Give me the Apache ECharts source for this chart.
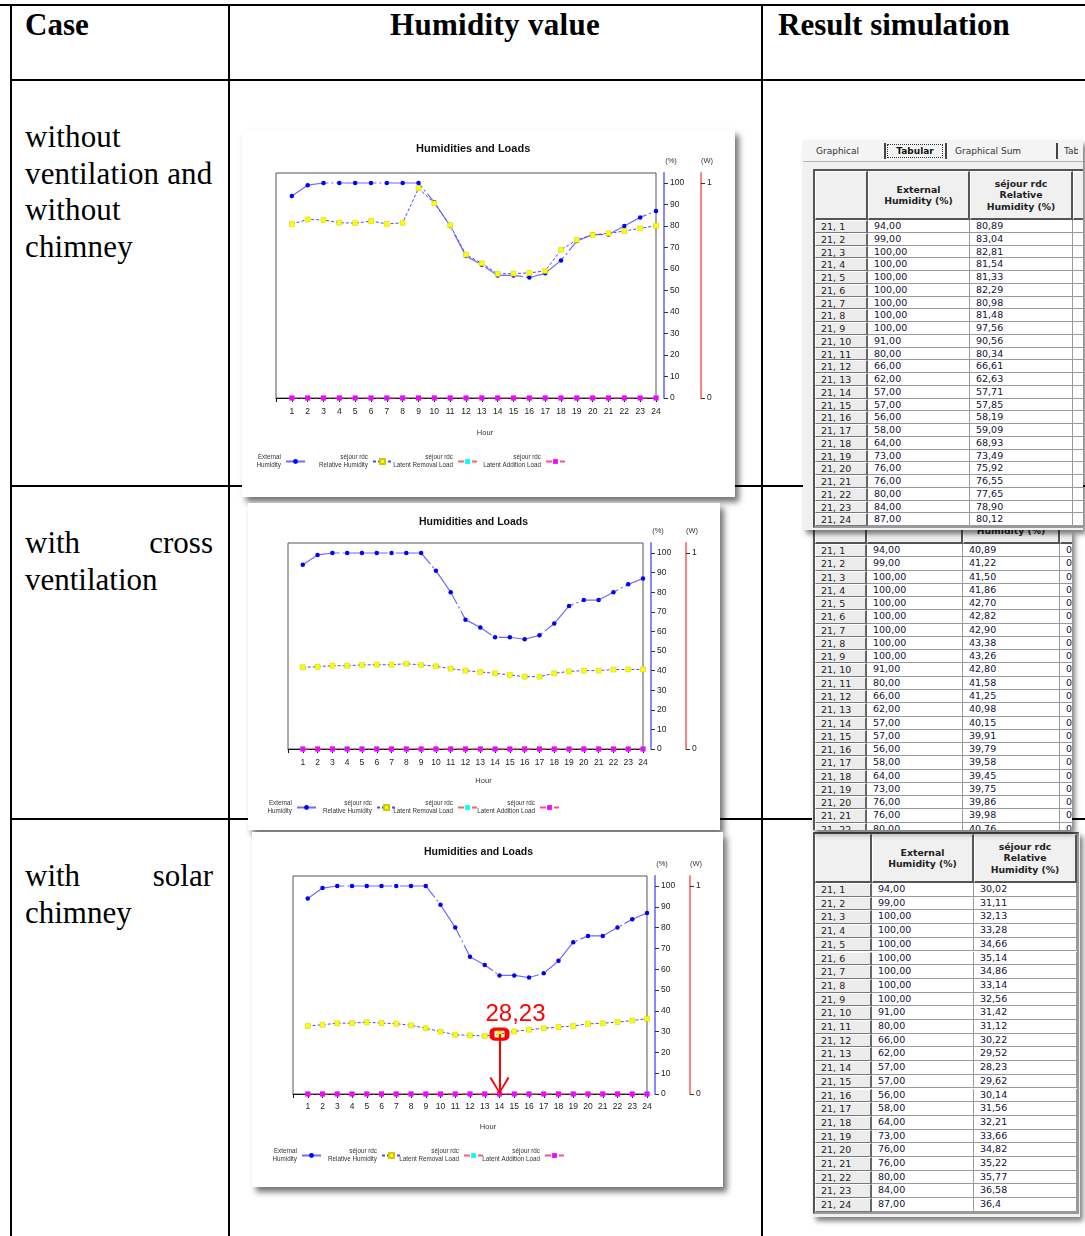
<!DOCTYPE html>
<html><head><meta charset="utf-8">
<script src="https://cdn.jsdelivr.net/npm/echarts@6/dist/echarts.min.js"></script>
<style>
body{margin:0;width:1085px;height:1236px;position:relative;background:#fff;overflow:hidden;font-family:'Liberation Serif','Times New Roman',serif;}
.ln{position:absolute;background:#000;}
.txt{position:absolute;font-size:31px;line-height:36.7px;color:#000;white-space:nowrap;}
.hd{font-weight:bold;}
.chart{position:absolute;background:#fff;box-shadow:4px 5px 6px rgba(0,0,0,0.55);z-index:2;}
.panel{position:absolute;background:#f0f0f0;box-shadow:3px 4px 5px rgba(0,0,0,0.5);overflow:hidden;font-family:'DejaVu Sans',sans-serif;z-index:3;}
.cell{position:absolute;box-sizing:border-box;font-size:9.5px;white-space:nowrap;overflow:hidden;color:#10103a;}
</style></head><body>
<div class="ln" style="left:0;top:4px;width:1085px;height:2px"></div>
<div class="ln" style="left:10px;top:79px;width:1075px;height:2px"></div>
<div class="ln" style="left:10px;top:485px;width:1075px;height:2px"></div>
<div class="ln" style="left:10px;top:818px;width:1075px;height:2px"></div>
<div class="ln" style="left:10px;top:4px;width:2px;height:1232px"></div>
<div class="ln" style="left:228px;top:4px;width:2px;height:1232px"></div>
<div class="ln" style="left:761px;top:4px;width:2px;height:1232px"></div>

<div class="txt hd" style="left:25px;top:7px">Case</div>
<div class="txt hd" style="left:390px;top:7px;letter-spacing:0.3px">Humidity value</div>
<div class="txt hd" style="left:778px;top:7px">Result simulation</div>

<div class="txt" style="left:25px;top:119px;letter-spacing:0.15px">without<br>ventilation and<br>without<br>chimney</div>
<div class="txt" style="left:25px;top:525px;width:188px"><div style="display:flex;justify-content:space-between"><span>with</span><span>cross</span></div>ventilation</div>
<div class="txt" style="left:25px;top:858px;width:188px"><div style="display:flex;justify-content:space-between"><span>with</span><span>solar</span></div>chimney</div>

<div id="c1" class="chart" style="left:242px;top:130px;width:493px;height:367px"></div>
<div id="c2" class="chart" style="left:248px;top:503px;width:472px;height:327px"></div>
<div id="c3" class="chart" style="left:252px;top:832px;width:471px;height:355px"></div>

<script>
// ---------- data ----------
const hours = [1,2,3,4,5,6,7,8,9,10,11,12,13,14,15,16,17,18,19,20,21,22,23,24];
const extHumidity = [94,99,100,100,100,100,100,100,100,91,80,66,62,57,57,56,58,64,73,76,76,80,84,87];
const rhNoVentChart = [80.89,83.04,82.81,81.54,81.33,82.29,80.98,81.48,97.56,90.56,80.34,66.61,62.63,57.71,57.85,58.19,59.09,68.93,73.49,75.92,76.55,77.65,78.90,80.12];
const rhCrossChart = [41.7,42.0,42.5,42.5,42.9,43.0,43.0,43.5,42.9,42.2,41.0,40.0,39.3,38.6,37.8,36.9,36.9,38.6,39.6,40.0,40.0,40.5,40.6,40.6];
const rhChimneyChart = [32.7,33.3,34.0,34.1,34.5,34.1,33.8,33.0,31.6,30.0,28.5,28.2,27.9,28.8,30.1,30.9,31.6,32.2,32.7,33.7,34.0,34.6,35.3,36.2];
const latentRemoval = [0,0,0,0,0,0,0,0,0,0,0,0,0,0,0,0,0,0,0,0,0,0,0,0];
const latentAddition = [0,0,0,0,0,0,0,0,0,0,0,0,0,0,0,0,0,0,0,0,0,0,0,0];
const pctTicks = [0,10,20,30,40,50,60,70,80,90,100];
const wTicks = [0,1];
const annotHour = 14;
const annotText = '28,23';

const tblRowLabels = hours.map(h => '21, ' + h);
const tblExt = ['94,00','99,00','100,00','100,00','100,00','100,00','100,00','100,00','100,00','91,00','80,00','66,00','62,00','57,00','57,00','56,00','58,00','64,00','73,00','76,00','76,00','80,00','84,00','87,00'];
const tblRhNoVent = ['80,89','83,04','82,81','81,54','81,33','82,29','80,98','81,48','97,56','90,56','80,34','66,61','62,63','57,71','57,85','58,19','59,09','68,93','73,49','75,92','76,55','77,65','78,90','80,12'];
const tblRhCross = ['40,89','41,22','41,50','41,86','42,70','42,82','42,90','43,38','43,26','42,80','41,58','41,25','40,98','40,15','39,91','39,79','39,58','39,45','39,75','39,86','39,98','40,76'];
const tblRhChimney = ['30,02','31,11','32,13','33,28','34,66','35,14','34,86','33,14','32,56','31,42','31,12','30,22','29,52','28,23','29,62','30,14','31,56','32,21','33,66','34,82','35,22','35,77','36,58','36,4'];
const seriesNames = ['External\nHumidity','séjour rdc\nRelative Humidity','séjour rdc\nLatent Removal Load','séjour rdc\nLatent Addition Load'];

// ---------- charts ----------
const FONT = 'Liberation Sans, Arial, sans-serif';
const CHEVRON = 'path://M0,0 L1.8,-1 L10,14.6 L18.2,-1 L20,0 L10,18 Z';
function pts(arr){ return hours.map((h,i)=>[h, arr[i]]); }
function makeOption(c){
  const axisName = (pad) => ({fontSize:7.5, color:'#333', fontFamily:FONT, padding:[0,0,0,pad]});
  const legends = seriesNames.map((n,i)=>({
    data:[n], right:c.legRight[i], top:c.legTop, align:'right', padding:0,
    itemWidth:19, itemHeight:6, selectedMode:false,
    textStyle:{fontSize:6.3, color:'#333', lineHeight:8.5, fontFamily:FONT}
  }));
  const rhSeries = {
    name:seriesNames[1], type:'line', data:pts(c.rh), symbol:'rect', symbolSize:5, z:4,
    itemStyle:{color:'#ffff00', borderColor:'#cccc00', borderWidth:0.5},
    lineStyle:{color:'#4a4aff', width:1, type:[3,2]}
  };
  if (c.annot) {
    const v = c.rh[annotHour-1];
    rhSeries.markPoint = {
      silent:true,
      data:[
        {coord:[annotHour, v], symbol:'roundRect', symbolSize:[15,10],
         itemStyle:{color:'rgba(255,255,255,0)', borderColor:'#ff0000', borderWidth:4},
         label:{show:true, formatter:annotText, position:'top', distance:1, offset:[16,0], color:'#ff0000', fontSize:24, fontFamily:FONT}},
        {coord:[annotHour, 0], symbol:CHEVRON, symbolSize:[20,17], symbolOffset:[0,'-50%'],
         itemStyle:{color:'#ff0000'}, label:{show:false}}
      ]
    };
    rhSeries.markLine = {
      silent:true, symbol:['none','none'],
      data:[[{coord:[annotHour, v]},{coord:[annotHour, 0]}]],
      lineStyle:{color:'#ff0000', width:2, type:'solid'}, label:{show:false}
    };
  }
  return {
    animation:false,
    title:{text:'Humidities and Loads', left:c.titleLeft, top:c.titleTop, padding:0,
      textStyle:{fontSize:c.titleSize, fontWeight:'bold', color:'#111', fontFamily:FONT}},
    grid:{left:c.grid[0], right:c.grid[1], top:c.grid[2], bottom:c.grid[3], show:true, borderColor:'#555', borderWidth:1, containLabel:false, outerBoundsMode:'none'},
    xAxis:{type:'value', min:0, max:24, interval:1,
      axisLine:{onZero:false, lineStyle:{color:'#111', width:1}},
      axisTick:{length:4, lineStyle:{color:'#111'}},
      axisLabel:{fontSize:8.5, color:'#222', margin:c.xMargin, fontFamily:FONT, formatter:v=> v===0 ? '' : String(v)},
      splitLine:{show:false},
      name:'Hour', nameLocation:'middle', nameGap:c.hourGap,
      nameTextStyle:{fontSize:7.5, color:'#333', fontFamily:FONT, padding:[0,0,0,c.hourShift*2]}},
    yAxis:[
      {type:'value', position:'right', offset:c.offB, min:0, max:c.yMax,
       axisLine:{show:true, onZero:false, lineStyle:{color:'#8888ff', width:2}},
       axisTick:{show:true, customValues:pctTicks, length:4, lineStyle:{color:'#333'}},
       axisLabel:{customValues:pctTicks, fontSize:8.5, color:'#222', margin:6, fontFamily:FONT},
       splitLine:{show:false}, name:'(%)', nameLocation:'end', nameGap:8, nameTextStyle:axisName(14)},
      {type:'value', position:'right', offset:c.offR, min:0, max:c.yMax/100,
       axisLine:{show:true, onZero:false, lineStyle:{color:'#ff8080', width:2}},
       axisTick:{show:true, customValues:wTicks, length:4, lineStyle:{color:'#333'}},
       axisLabel:{customValues:wTicks, fontSize:8.5, color:'#222', margin:6, fontFamily:FONT},
       splitLine:{show:false}, name:'(W)', nameLocation:'end', nameGap:8, nameTextStyle:axisName(12)}
    ],
    legend:legends,
    series:[
      {name:seriesNames[0], type:'line', data:pts(extHumidity), symbol:'circle', symbolSize:4.5, z:3,
       itemStyle:{color:'#0000ff'}, lineStyle:{color:'#6c6cff', width:1.2, type:[40,3,2,3]}},
      rhSeries,
      {name:seriesNames[2], type:'line', yAxisIndex:1, data:pts(latentRemoval), symbol:'rect', symbolSize:5, z:2,
       itemStyle:{color:'#00ffff'}, lineStyle:{color:'#ff6060', width:1.2, type:[6,3,2,3]}},
      {name:seriesNames[3], type:'line', yAxisIndex:1, data:pts(latentAddition), symbol:'rect', symbolSize:5, z:2,
       itemStyle:{color:'#ff00ff'}, lineStyle:{color:'#ff5080', width:1.2, type:[6,3,2,3]}}
    ]
  };
}
const cfgs = [
  {id:'c1', rh:rhNoVentChart, grid:[34,79,43,99], yMax:104.65, offB:8, offR:45, titleLeft:174, titleTop:13, titleSize:11,
   xMargin:9, hourGap:31, hourShift:19, legRight:[429,342,257,169], legTop:323},
  {id:'c2', rh:rhCrossChart, grid:[40,77,40,81], yMax:105.1, offB:8, offR:43, titleLeft:171, titleTop:14, titleSize:10.5,
   xMargin:9, hourGap:28, hourShift:18, legRight:[403,323,242,160], legTop:296},
  {id:'c3', rh:rhChimneyChart, grid:[41,76,44,93], yMax:104.8, offB:8, offR:43, titleLeft:172, titleTop:15, titleSize:10.5,
   xMargin:8, hourGap:29, hourShift:18, legRight:[401,321,239,158], legTop:315, annot:true}
];
cfgs.forEach(c => echarts.init(document.getElementById(c.id), null, {renderer:'canvas'}).setOption(makeOption(c)));

// ---------- tables ----------
function el(parent, css, html){
  const d = document.createElement('div');
  d.className = 'cell';
  Object.assign(d.style, css);
  if (html !== undefined) d.innerHTML = html;
  parent.appendChild(d);
  return d;
}
function buildTable(t){
  const p = document.createElement('div');
  p.className = 'panel';
  Object.assign(p.style, {left:t.panel[0]+'px', top:t.panel[1]+'px', width:(t.panel[2]-t.panel[0])+'px', height:(t.panel[3]-t.panel[1])+'px'});
  if (t.z) p.style.zIndex = t.z;
  document.body.appendChild(p);
  const ox = t.panel[0], oy = t.panel[1];
  const cols = t.cols;
  const right = cols[cols.length-1];
  el(p, {left:(cols[0]-ox-2)+'px', top:(t.headerTop-oy-2)+'px', width:(right-cols[0]+4)+'px', height:(t.headerH + t.rowH*t.nRows + 4)+'px', border:'2px solid #555', borderRightColor:'#999', borderBottomColor:'#999', background:'#fff'});
  for (let j=0;j<cols.length-1;j++){
    const txt = t.headers[j] || '';
    el(p, {left:(cols[j]-ox)+'px', top:(t.headerTop-oy)+'px', width:(cols[j+1]-cols[j])+'px', height:t.headerH+'px',
      background:'#f0f0f0', borderRight:'2px solid #555', borderBottom:'2px solid #555', borderLeft:'1px solid #fff', borderTop:'1px solid #fff',
      display:'flex', alignItems:'center', justifyContent:'center', textAlign:'center', fontWeight:'bold', fontSize:'9.3px', lineHeight:'11.3px', whiteSpace:'normal', color:'#222'}, txt);
  }
  for (let i=0;i<t.nRows;i++){
    const top = t.headerTop + t.headerH + i*t.rowH - oy;
    for (let j=0;j<cols.length-1;j++){
      const val = t.cells[j][i];
      const isHead = j===0;
      el(p, {left:(cols[j]-ox)+'px', top:top+'px', width:(cols[j+1]-cols[j])+'px', height:t.rowH+'px',
        background:isHead?'#ececec':'#fff',
        borderTop:isHead?'1px solid #fff':'none', borderLeft:isHead?'1px solid #fff':'none',
        borderRight:isHead?'2px solid #666':'1px solid #9a9a9a', borderBottom:isHead?'1px solid #777':'1px solid #9a9a9a',
        paddingLeft:(isHead?5:6)+'px', lineHeight:(t.rowH-1)+'px', color:isHead?'#222':'#10103a'},
        val === undefined ? '' : val);
    }
  }
  return p;
}
buildTable({panel:[813,832,1080,1217], cols:[815,872,974,1077], headerTop:834, headerH:49, rowH:13.7, nRows:24,
  headers:['', 'External<br>Humidity (%)', 'séjour rdc<br>Relative<br>Humidity (%)'],
  cells:[tblRowLabels, tblExt, tblRhChimney]});
buildTable({panel:[812,530,1072,830], cols:[815,867,963,1060,1100], headerTop:495, headerH:49, rowH:13.27, nRows:22,
  headers:['', 'External<br>Humidity (%)', 'séjour rdc<br>Relative<br>Humidity (%)', ''],
  cells:[tblRowLabels, tblExt, tblRhCross, tblRhCross.map(()=> '0,00')]});
const t1 = buildTable({panel:[803,140,1083,530], cols:[815,868,970,1073,1110], headerTop:171, headerH:49, rowH:12.75, nRows:24, z:4,
  headers:['', 'External<br>Humidity (%)', 'séjour rdc<br>Relative<br>Humidity (%)', ''],
  cells:[tblRowLabels, tblExt, tblRhNoVent, []]});
el(t1, {left:'0px', top:'0px', width:'290px', height:'22px', background:'#f4f4f4', borderBottom:'1px solid #b0b0b0'});
el(t1, {left:'13px', top:'6px', fontSize:'9px', color:'#333'}, 'Graphical');
el(t1, {left:'81px', top:'3px', width:'2px', height:'16px', background:'#444'});
el(t1, {left:'84px', top:'4px', width:'56px', height:'14px', border:'1px dotted #333', fontSize:'9px', fontWeight:'bold', color:'#111', textAlign:'center', lineHeight:'12px'}, 'Tabular');
el(t1, {left:'142px', top:'3px', width:'2px', height:'16px', background:'#444'});
el(t1, {left:'152px', top:'6px', fontSize:'9px', color:'#333'}, 'Graphical Sum');
el(t1, {left:'253px', top:'3px', width:'2px', height:'16px', background:'#444'});
el(t1, {left:'261px', top:'6px', fontSize:'9px', color:'#333', width:'14px'}, 'Tabular Sum');
</script>
</body></html>
